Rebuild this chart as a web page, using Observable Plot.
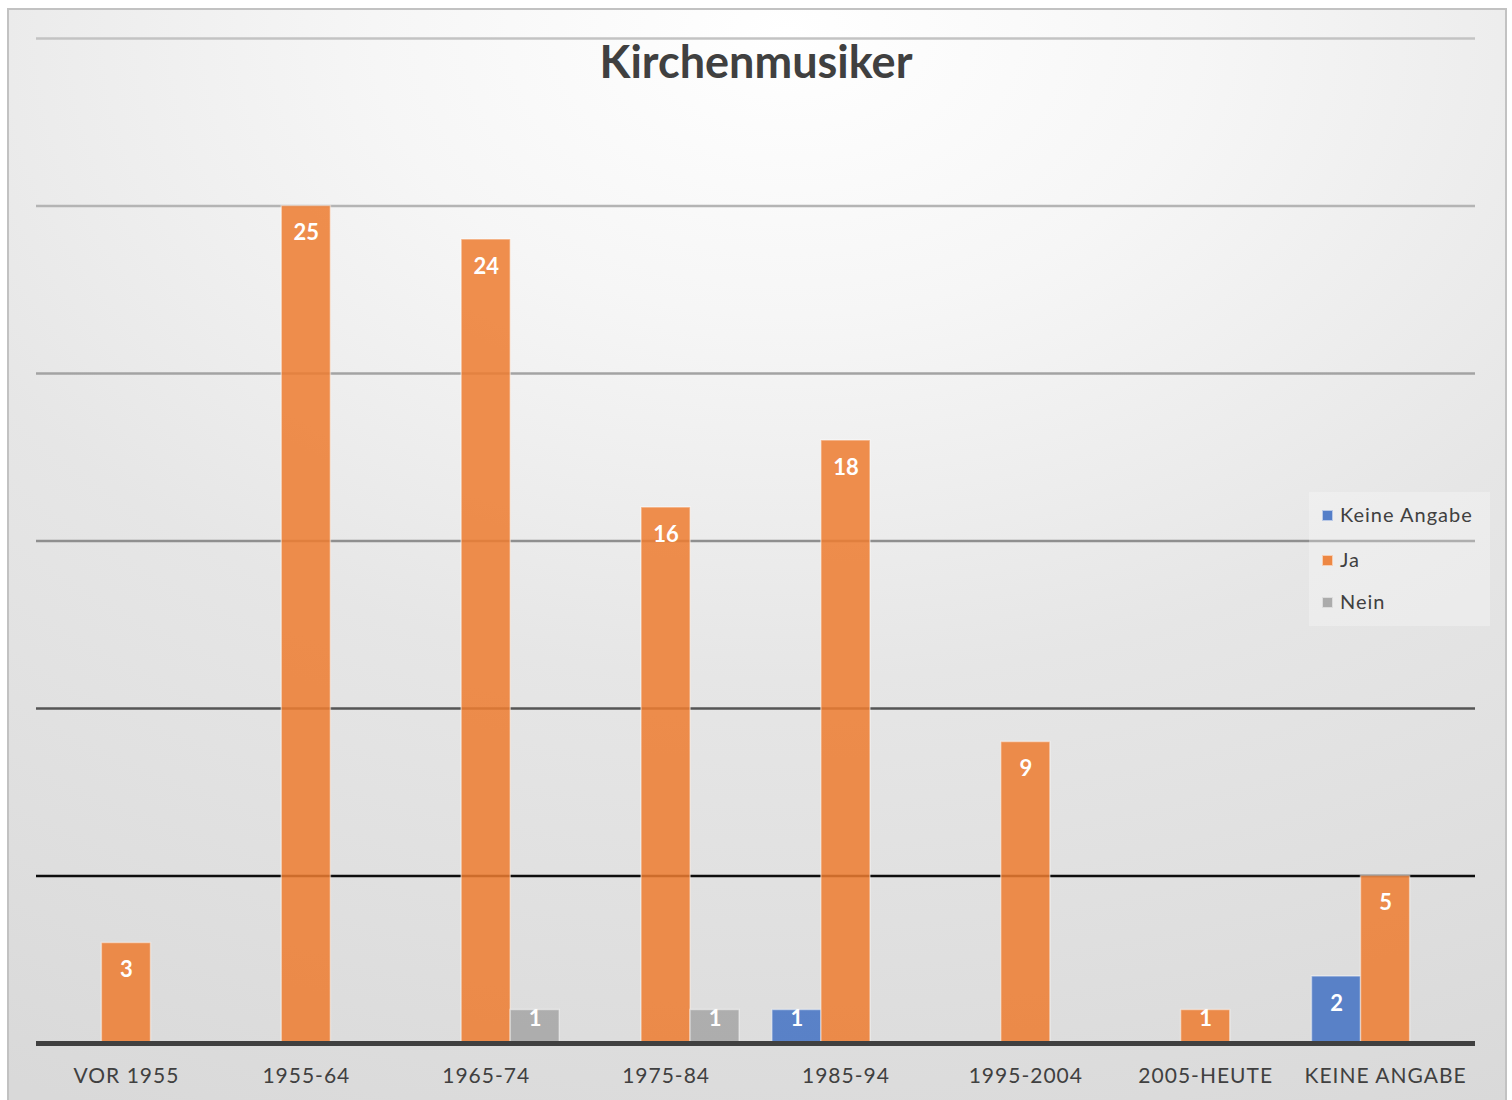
<!DOCTYPE html>
<html>
<head>
<meta charset="utf-8">
<script src="https://cdn.jsdelivr.net/npm/d3@7"></script>
<script src="https://cdn.jsdelivr.net/npm/@observablehq/plot@0.6"></script>
<style>
  html, body { margin: 0; padding: 0; background: #ffffff; }
  #wrap { position: relative; width: 1512px; height: 1100px; overflow: hidden; font-family: Lato, "Open Sans", sans-serif; }
  #bg { position: absolute; left: 7px; top: 8px; width: 1496px; height: 1120px; border: 2px solid #c2c2c2;
        background: radial-gradient(ellipse 115% 105% at 52% 2%, #ffffff 0%, #f6f6f6 24%, #e6e6e6 55%, #d9d9d9 100%); }
  #chart { position: absolute; left: 0; top: 0; }
  #title { position: absolute; left: 0; top: 35px; width: 1512px; text-align: center; font-family: Lato, sans-serif;
           font-weight: 700; font-size: 45px; line-height: 52px; color: #404040; }
  #legend { position: absolute; left: 1309px; top: 492px; width: 181px; height: 134px; background: rgba(255,255,255,0.28); }
  .row { position: absolute; left: 13px; height: 24px; line-height: 24px; font-size: 20px; color: #404040; letter-spacing: 1px; white-space: nowrap; }
  .sw { display: inline-block; width: 11px; height: 11px; margin-right: 7px; vertical-align: 1px; box-sizing: border-box; border: 1px solid rgba(255,255,255,0.6); }
  [aria-label="x-axis tick label"] text { letter-spacing: 1px; }
</style>
</head>
<body>
<div id="wrap">
  <div id="bg"></div>
  <div id="chart"></div>
  <div id="title"></div>
  <div id="legend"></div>
</div>
<script>
const chartTitle = "Kirchenmusiker";
const categories = ["VOR 1955", "1955-64", "1965-74", "1975-84", "1985-94", "1995-2004", "2005-HEUTE", "KEINE ANGABE"];
const seriesNames = ["Keine Angabe", "Ja", "Nein"];
const keineAngabe = [0, 0, 0, 0, 1, 0, 0, 2];
const ja = [3, 25, 24, 16, 18, 9, 1, 5];
const nein = [0, 0, 1, 1, 0, 0, 0, 0];
const seriesColors = ["#4472C4", "#ED7D31", "#A5A5A5"];
const gridValues = [5, 10, 15, 20, 25, 30];
const gridColors = ["#0d0d0d", "#555555", "#8f8f8f", "#a3a3a3", "#b4b4b4", "#c3c3c3"];

const seriesValues = [keineAngabe, ja, nein];
const rows = seriesValues.map((vals, s) =>
  categories.map((c, i) => ({cat: c, series: seriesNames[s], value: vals[i]})).filter(d => d.value > 0)
);

// bar placement within each category group: left, centre, right third
const insets = [[0, 98], [49, 49], [98, 0]];
const offsets = [-49, 0, 49];

const marks = [];
gridValues.forEach((v, i) => marks.push(Plot.ruleY([v], {stroke: gridColors[i], strokeWidth: 2.5})));
rows.forEach((data, s) => {
  marks.push(Plot.barY(data, {
    x: "cat", y: "value", fill: seriesColors[s], fillOpacity: 0.86,
    stroke: "#ffffff", strokeOpacity: 0.45, strokeWidth: 1.5,
    insetLeft: insets[s][0], insetRight: insets[s][1]
  }));
});
marks.push(Plot.ruleY([0], {stroke: "#404040", strokeWidth: 5}));
rows.forEach((data, s) => {
  marks.push(Plot.text(data.filter(d => d.value > 1), {
    x: "cat", y: "value", text: d => String(d.value), dx: offsets[s], dy: 27,
    fill: "#ffffff", fontSize: 22, fontWeight: 700
  }));
  marks.push(Plot.text(data.filter(d => d.value === 1), {
    x: "cat", y: "value", text: d => String(d.value), dx: offsets[s], dy: 9,
    fill: "#ffffff", fontSize: 22, fontWeight: 700
  }));
});
marks.push(Plot.axisX({anchor: "bottom", tickSize: 0, tickPadding: 25, fontSize: 21, label: null}));

const chart = Plot.plot({
  width: 1512,
  height: 1100,
  marginTop: 38,
  marginBottom: 57,
  marginLeft: 36,
  marginRight: 37,
  style: {background: "transparent", fontFamily: "Lato, 'Open Sans', sans-serif", color: "#404040", overflow: "visible"},
  x: {domain: categories, paddingInner: 0.182, paddingOuter: 0.091, round: false, axis: null},
  y: {domain: [0, 30], axis: null},
  marks
});
document.getElementById("chart").appendChild(chart);
document.getElementById("title").textContent = chartTitle;

const legend = document.getElementById("legend");
const rowTops = [10, 55, 97];
seriesNames.forEach((name, i) => {
  const r = document.createElement("div");
  r.className = "row";
  r.style.top = rowTops[i] + "px";
  const sw = document.createElement("span");
  sw.className = "sw";
  sw.style.background = seriesColors[i];
  sw.style.opacity = 0.9;
  r.appendChild(sw);
  r.appendChild(document.createTextNode(name));
  legend.appendChild(r);
});
</script>
</body>
</html>
